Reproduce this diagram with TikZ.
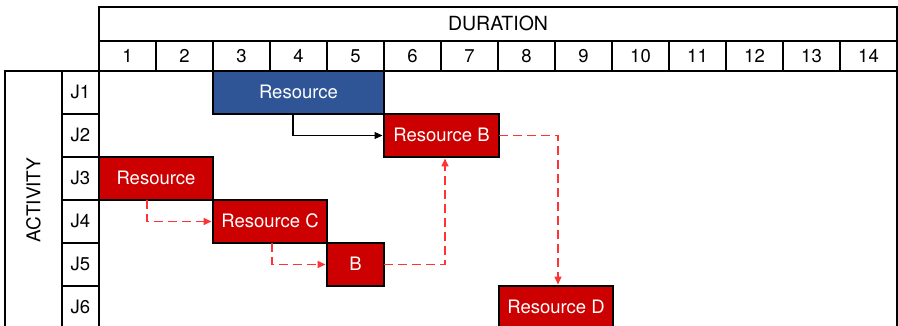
\documentclass[tikz,border=0pt]{standalone}
\usepackage{fontspec}
\setmainfont{TeX Gyre Heros}
\usetikzlibrary{arrows.meta,calc}
\definecolor{barblue}{HTML}{2F5597}
\definecolor{barred}{HTML}{CC0000}
\definecolor{linkred}{HTML}{FF3333}
\tikzset{
  grid/.style={draw=black, line width=2.8pt, inner sep=0pt, outer sep=0pt, anchor=north west, font=\fontsize{18.5}{20}\selectfont, text height=12.3pt, text depth=0pt},
  bar/.style={draw=black, line width=2.8pt, inner sep=0pt, outer sep=0pt, anchor=north west, text=white, minimum height=43pt, font=\fontsize{18.5}{20}\selectfont, text height=12.3pt, text depth=0pt},
  blink/.style={draw=black, line width=1.1pt, -{Triangle[length=8pt,width=7pt]}, shorten >=1.5pt},
  rlink/.style={draw=linkred, line width=1.6pt, dash pattern=on 9pt off 5pt, -{Triangle[length=8pt,width=7pt]}, shorten >=1.5pt},
}
\begin{document}
\begin{tikzpicture}[x=1pt,y=-1pt]
\useasboundingbox (0,0) rectangle (898,326);
\clip (0,0) rectangle (898,326);
% body
\draw[line width=2.8pt] (99,71) rectangle (897,329);
% header
\node[grid, minimum width=798pt, minimum height=34pt, font=\fontsize{19.5}{20}\selectfont, text height=13.3pt] (dur) at (99,7) {DURATION};
\foreach \i in {1,...,14}{
  \node[grid, minimum width=57pt, minimum height=30pt] (d\i) at ({99+57*(\i-1)},41) {\i};
}
% activity column
\node[grid, minimum width=57pt, minimum height=258pt] (act) at (5,71) {};
\node[rotate=90, font=\fontsize{19}{20}\selectfont, inner sep=0pt, text height=13.5pt, text depth=0pt] (actlbl) at (act.center) {ACTIVITY};
\foreach \j in {1,...,6}{
  \node[grid, minimum width=37pt, minimum height=43pt] (j\j) at (62,{71+43*(\j-1)}) {J\j};
}
% bars
\node[bar, fill=barblue, minimum width=171pt] (r1) at (213,71) {Resource};
\node[bar, fill=barred, minimum width=115pt] (r2) at (384,114) {Resource B};
\node[bar, fill=barred, minimum width=114pt] (r3) at (99,157) {Resource};
\node[bar, fill=barred, minimum width=114pt] (r4) at (213,200) {Resource C};
\node[bar, fill=barred, minimum width=57pt] (r5) at (327,243) {B};
\node[bar, fill=barred, minimum width=114pt] (r6) at (499,286) {Resource D};
% links
\draw[blink] ($(r1.south west)+(80,0)$) |- (r2.west);
\draw[rlink] ($(r3.south west)+(48,0)$) |- (r4.west);
\draw[rlink] ($(r4.south west)+(59,0)$) |- (r5.west);
\draw[rlink] (r5.east) -| ($(r2.south west)+(61,0)$);
\draw[rlink] (r2.east) -| ($(r6.north west)+(59,0)$);
\end{tikzpicture}
\end{document}
